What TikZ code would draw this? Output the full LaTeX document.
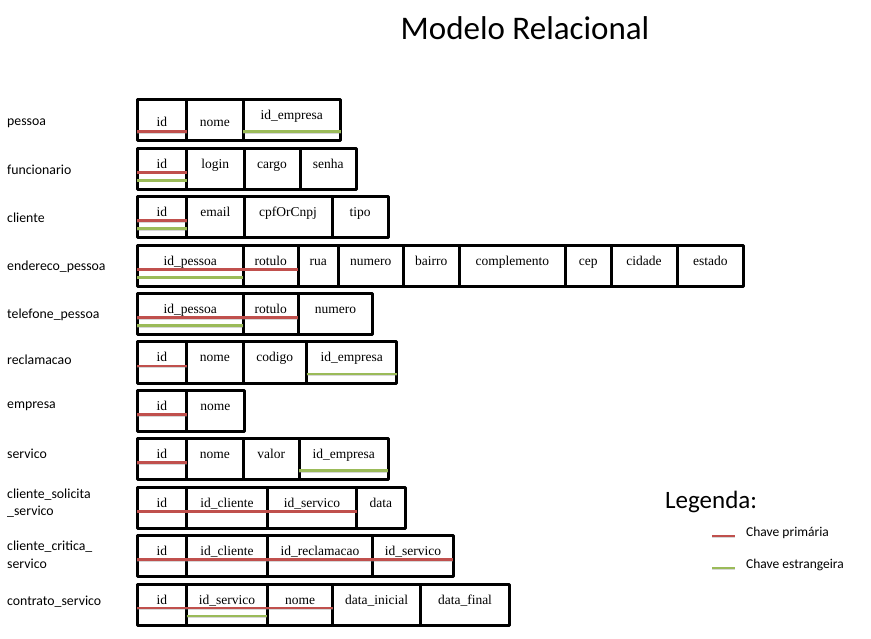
\documentclass[tikz,border=0pt]{standalone}
\usepackage{fontspec}
\setmainfont{Liberation Serif}
\newfontfamily\calibri{Carlito}
\usepackage{xcolor}
\definecolor{pkred}{HTML}{C0504D}
\definecolor{fkgreen}{HTML}{9BBB59}
\tikzset{
  cellbox/.style={draw, line width=3pt, line join=round, anchor=north west, inner sep=0pt,
    outer sep=0pt, text height=20pt, text depth=21pt,
    font=\fontsize{13.5}{16}\selectfont},
  tabname/.style={anchor=west, align=left, inner sep=0pt,
    font=\calibri\fontsize{13.8}{17.5}\selectfont},
  keyline/.style={line width=2.8pt,
    preaction={draw=black!45, opacity=.35, transform canvas={yshift=-1.3pt}}},
  pk/.style={keyline, draw=pkred},
  fk/.style={keyline, draw=fkgreen}
}

\begin{document}
\begin{tikzpicture}[x=1pt, y=-1pt]
    \useasboundingbox (0,0) rectangle (871,639);

    \node[font=\calibri\fontsize{33}{40}\selectfont, anchor=base] (titulo) at (525,40) {Modelo Relacional};

    % nomes das tabelas
    \node[tabname] (t-pessoa) at (7,123) {pessoa};
    \node[tabname] (t-funcionario) at (7,169.5) {funcionario};
    \node[tabname] (t-cliente) at (7,218) {cliente};
    \node[tabname] (t-endereco) at (7,267) {endereco\_pessoa};
    \node[tabname] (t-telefone) at (7,315) {telefone\_pessoa};
    \node[tabname] (t-reclamacao) at (7,360) {reclamacao};
    \node[tabname] (t-empresa) at (7,406) {empresa};
    \node[tabname] (t-servico) at (7,454) {servico};
    \node[tabname] (t-solicita) at (7,503) {cliente\_solicita\\\_servico};
    \node[tabname] (t-critica) at (7,555) {cliente\_critica\_\\servico};
    \node[tabname] (t-contrato) at (7,602) {contrato\_servico};

    % pessoa
    \node[cellbox, minimum width=49.7, text height=26.7pt, text depth=14.3pt] (pessoa-id) at (137,100) {id};
    \node[cellbox, minimum width=56.3, text height=26.7pt, text depth=14.3pt] (pessoa-nome) at (186.7,100) {nome};
    \node[cellbox, minimum width=97.7] (pessoa-emp) at (243,100) {id\_empresa};
    \draw[pk] ([yshift=-31.7pt]pessoa-id.north west) -- ([yshift=-31.7pt]pessoa-id.north east);
    \draw[fk] ([yshift=-31.7pt]pessoa-emp.north west) -- ([yshift=-31.7pt]pessoa-emp.north east);

    % funcionario
    \foreach \c/\xa/\xb/\t in {id/137/186.7/id, login/186.7/244/login, cargo/244/300/cargo, senha/300/356.7/senha}
      \node[cellbox, minimum width=\xb-\xa] (funcionario-\c) at (\xa,148.4) {\t};
    \draw[pk] ([yshift=-24pt]funcionario-id.north west) -- ([yshift=-24pt]funcionario-id.north east);
    \draw[fk] ([yshift=-32pt]funcionario-id.north west) -- ([yshift=-32pt]funcionario-id.north east);

    % cliente
    \foreach \c/\xa/\xb/\t in {id/137/186.7/id, email/186.7/244/email, cpf/244/332/cpfOrCnpj, tipo/332/388/tipo}
      \node[cellbox, minimum width=\xb-\xa] (cliente-\c) at (\xa,196.8) {\t};
    \draw[pk] ([yshift=-24pt]cliente-id.north west) -- ([yshift=-24pt]cliente-id.north east);
    \draw[fk] ([yshift=-32pt]cliente-id.north west) -- ([yshift=-32pt]cliente-id.north east);

    % endereco_pessoa
    \foreach \c/\xa/\xb/\t in {pes/137/243.3/id\_pessoa, rot/243.3/298.3/rotulo, rua/298.3/338.3/rua,
        num/338.3/403.3/numero, bai/403.3/459/bairro, comp/459/565.5/complemento,
        cep/565.5/611/cep, cid/611/677/cidade, est/677/743.5/estado}
      \node[cellbox, minimum width=\xb-\xa] (endereco-\c) at (\xa,245.2) {\t};
    \draw[pk] ([yshift=-24pt]endereco-pes.north west) -- ([yshift=-24pt]endereco-rot.north east);
    \draw[fk] ([yshift=-32pt]endereco-pes.north west) -- ([yshift=-32pt]endereco-pes.north east);

    % telefone_pessoa
    \foreach \c/\xa/\xb/\t in {pes/137/243.3/id\_pessoa, rot/243.3/298.3/rotulo, num/298.3/372.7/numero}
      \node[cellbox, minimum width=\xb-\xa] (telefone-\c) at (\xa,293.6) {\t};
    \draw[pk] ([yshift=-24pt]telefone-pes.north west) -- ([yshift=-24pt]telefone-rot.north east);
    \draw[fk] ([yshift=-32pt]telefone-pes.north west) -- ([yshift=-32pt]telefone-pes.north east);

    % reclamacao
    \foreach \c/\xa/\xb/\t in {id/137/186.7/id, nome/186.7/243/nome, cod/243/306.7/codigo, emp/306.7/396.7/id\_empresa}
      \node[cellbox, minimum width=\xb-\xa] (reclamacao-\c) at (\xa,342) {\t};
    \draw[pk] ([yshift=-24pt]reclamacao-id.north west) -- ([yshift=-24pt]reclamacao-id.north east);
    \draw[fk] ([yshift=-32pt]reclamacao-emp.north west) -- ([yshift=-32pt]reclamacao-emp.north east);

    % empresa
    \foreach \c/\xa/\xb/\t in {id/137/186.7/id, nome/186.7/244/nome}
      \node[cellbox, minimum width=\xb-\xa] (empresa-\c) at (\xa,390.4) {\t};
    \draw[pk] ([yshift=-24pt]empresa-id.north west) -- ([yshift=-24pt]empresa-id.north east);

    % servico
    \foreach \c/\xa/\xb/\t in {id/137/186.7/id, nome/186.7/243/nome, val/243/299.3/valor, emp/299.3/388/id\_empresa}
      \node[cellbox, minimum width=\xb-\xa] (servico-\c) at (\xa,438.8) {\t};
    \draw[pk] ([yshift=-24pt]servico-id.north west) -- ([yshift=-24pt]servico-id.north east);
    \draw[fk] ([yshift=-32pt]servico-emp.north west) -- ([yshift=-32pt]servico-emp.north east);

    % cliente_solicita_servico
    \foreach \c/\xa/\xb/\t in {id/137/186.7/id, cli/186.7/267.3/id\_cliente, ser/267.3/356.7/id\_servico, data/356.7/405/data}
      \node[cellbox, minimum width=\xb-\xa] (solicita-\c) at (\xa,487.2) {\t};
    \draw[pk] ([yshift=-24pt]solicita-id.north west) -- ([yshift=-24pt]solicita-ser.north east);

    % cliente_critica_servico
    \foreach \c/\xa/\xb/\t in {id/137/186.7/id, cli/186.7/267.3/id\_cliente, rec/267.3/372.7/id\_reclamacao, ser/372.7/453.3/id\_servico}
      \node[cellbox, minimum width=\xb-\xa] (critica-\c) at (\xa,535.6) {\t};
    \draw[pk] ([yshift=-24pt]critica-id.north west) -- ([yshift=-24pt]critica-ser.north east);

    % contrato_servico
    \foreach \c/\xa/\xb/\t in {id/137/186.7/id, ser/186.7/267.3/id\_servico, nome/267.3/332.7/nome,
        ini/332.7/420.7/data\_inicial, fim/420.7/509.3/data\_final}
      \node[cellbox, minimum width=\xb-\xa] (contrato-\c) at (\xa,584) {\t};
    \draw[pk] ([yshift=-24pt]contrato-id.north west) -- ([yshift=-24pt]contrato-nome.north east);
    \draw[fk] ([yshift=-32pt]contrato-ser.north west) -- ([yshift=-32pt]contrato-ser.north east);

    % legenda
    \node[font=\calibri\fontsize{25}{30}\selectfont, anchor=base west, inner sep=0pt] (legenda) at (665,508) {Legenda:};
    \coordinate (pk-a) at (712,536);
    \coordinate (pk-b) at (735,536);
    \coordinate (fk-a) at (712,568);
    \coordinate (fk-b) at (735,568);
    \draw[pk] (pk-a) -- (pk-b);
    \draw[fk] (fk-a) -- (fk-b);
    \node[font=\calibri\fontsize{13.5}{16}\selectfont, anchor=west, inner sep=0pt] (leg-pk) at (746,533) {Chave primária};
    \node[font=\calibri\fontsize{13.5}{16}\selectfont, anchor=west, inner sep=0pt] (leg-fk) at (746,565) {Chave estrangeira};
  \end{tikzpicture}
\end{document}
